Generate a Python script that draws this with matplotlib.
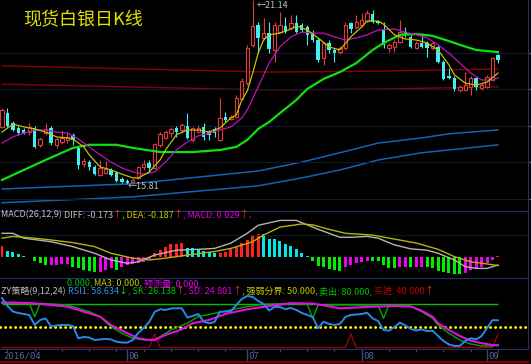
import matplotlib
matplotlib.use('Agg')
import matplotlib.pyplot as plt
import numpy as np
import pandas as pd

W, H = 531, 364
FONT = ['Liberation Sans Narrow', 'Noto Sans CJK SC']

# trading days shown (2016/04/29 .. 2016/09/05)
dates = pd.bdate_range('2016-04-29', periods=92)
month_idx = [0, 23, 45, 66, 89]
month_lbl = ['2016/04', '06', '07', '08', '09']

# daily candles
opens = [17.46, 17.86, 17.57, 17.43, 17.37, 17.31, 17.43, 16.94, 17.28, 17.43,
         16.94, 17.02, 17.08, 17.23, 16.85, 16.38, 16.44, 16.30, 16.07, 16.12,
         16.21, 16.12, 15.95, 15.89, 15.86, 15.98, 16.30, 16.41, 16.27, 16.94,
         17.14, 17.28, 17.43, 17.37, 17.49, 17.08, 17.31, 17.46, 17.31, 17.40,
         17.08, 17.75, 17.69, 17.75, 18.27, 18.73, 19.84, 20.41, 20.04, 20.18,
         19.69, 20.21, 20.39, 20.33, 20.47, 20.41, 20.36, 20.18, 19.98, 19.46,
         19.89, 19.69, 19.63, 19.75, 20.47, 20.36, 20.41, 20.53, 20.73, 20.53,
         20.27, 19.75, 19.78, 19.92, 20.21, 20.07, 19.75, 19.89, 19.89, 19.75,
         19.78, 19.34, 18.94, 18.88, 18.53, 18.53, 18.62, 18.88, 18.59, 18.62,
         18.82, 19.55]
highs = [18.01, 18.01, 17.63, 17.49, 17.43, 17.57, 17.49, 17.17, 17.57, 17.49,
         17.17, 17.37, 17.31, 17.28, 16.91, 16.56, 16.50, 16.35, 16.50, 16.47,
         16.27, 16.18, 16.01, 15.95, 15.98, 16.33, 16.50, 16.50, 16.99, 17.31,
         17.37, 17.46, 17.49, 17.57, 17.86, 17.46, 17.52, 17.57, 17.37, 17.46,
         18.30, 17.89, 17.81, 18.39, 18.88, 19.84, 21.14, 20.50, 20.62, 20.50,
         20.50, 20.79, 20.65, 20.71, 20.71, 20.47, 20.41, 20.27, 20.04, 19.92,
         19.98, 19.75, 19.81, 20.50, 20.50, 20.71, 20.76, 20.85, 20.85, 20.56,
         20.50, 19.89, 19.98, 20.56, 20.36, 20.13, 19.95, 20.18, 19.95, 19.95,
         19.84, 19.40, 19.17, 18.94, 18.67, 19.05, 18.94, 18.91, 18.73, 18.97,
         19.49, 19.57]
lows = [17.43, 17.46, 17.34, 17.23, 17.25, 17.23, 16.85, 16.88, 17.23, 16.94,
        16.85, 16.96, 16.99, 16.94, 16.24, 16.30, 16.21, 16.07, 16.04, 16.09,
        16.04, 15.86, 15.83, 15.81, 15.83, 15.95, 16.21, 16.15, 16.24, 16.88,
        17.11, 17.17, 17.17, 17.28, 17.11, 17.02, 17.28, 17.08, 17.08, 17.17,
        17.05, 17.60, 17.66, 17.72, 18.24, 18.67, 19.78, 19.60, 19.98, 19.60,
        19.34, 20.18, 20.18, 20.27, 20.18, 20.21, 19.84, 19.92, 19.34, 19.26,
        19.60, 19.34, 19.57, 19.69, 20.18, 20.30, 20.36, 20.50, 20.47, 20.44,
        19.75, 19.63, 19.63, 19.89, 20.07, 19.75, 19.72, 19.75, 19.49, 19.69,
        19.31, 18.82, 18.85, 18.50, 18.47, 18.50, 18.39, 18.53, 18.53, 18.59,
        18.79, 19.31]
closes = [17.95, 17.49, 17.37, 17.28, 17.28, 17.46, 16.88, 17.11, 17.40, 16.99,
          17.11, 17.14, 17.17, 17.08, 16.35, 16.47, 16.30, 16.09, 16.27, 16.24,
          16.07, 15.89, 15.86, 15.83, 15.92, 16.30, 16.38, 16.27, 16.96, 17.25,
          17.31, 17.40, 17.31, 17.52, 17.14, 17.43, 17.43, 17.17, 17.23, 17.28,
          17.72, 17.66, 17.75, 18.30, 18.79, 19.75, 20.39, 20.04, 20.18, 19.72,
          20.41, 20.41, 20.21, 20.47, 20.21, 20.27, 20.13, 19.98, 19.40, 19.89,
          19.69, 19.60, 19.75, 20.41, 20.30, 20.50, 20.56, 20.76, 20.50, 20.47,
          19.84, 19.84, 19.92, 20.21, 20.13, 19.78, 19.89, 19.78, 19.75, 19.89,
          19.34, 18.85, 18.88, 18.56, 18.62, 18.67, 18.88, 18.62, 18.67, 18.91,
          19.46, 19.40]

# moving average lines (candle index, price)
ma5_idx = [0, 2, 4, 6, 8, 10, 12, 13, 15, 16, 18, 20, 22, 24, 25, 27, 29, 30, 32, 34,
           36, 38, 40, 42, 43, 44, 45, 46, 47, 48, 49, 51, 53, 54, 56, 58, 60, 62, 64, 66,
           67, 69, 70, 72, 74, 76, 78, 80, 82, 83, 85, 87, 89, 91]
ma5_val = [17.31, 17.54, 17.46, 17.40, 17.31, 17.17, 17.14, 17.11, 16.88, 16.65,
           16.30, 16.21, 16.09, 15.98, 15.98, 16.15, 16.50, 16.79, 17.23, 17.37,
           17.37, 17.31, 17.43, 17.72, 17.81, 18.24, 18.50, 19.02, 19.60, 19.98,
           20.13, 20.18, 20.30, 20.39, 20.27, 20.04, 19.78, 19.69, 20.07, 20.36,
           20.53, 20.53, 20.44, 20.13, 20.01, 19.98, 19.89, 19.69, 19.26, 18.97,
           18.73, 18.67, 18.76, 19.02]
ma10_idx = [0, 2, 4, 6, 8, 10, 12, 14, 16, 18, 20, 22, 24, 26, 28, 30, 32, 34, 36, 38,
            40, 42, 44, 45, 47, 49, 51, 53, 55, 57, 59, 61, 63, 65, 67, 69, 72, 74, 76, 78,
            80, 82, 84, 86, 88, 90, 91]
ma10_val = [16.99, 17.17, 17.28, 17.37, 17.37, 17.31, 17.28, 17.11, 16.88, 16.65,
            16.44, 16.27, 16.15, 16.09, 16.15, 16.44, 16.79, 17.02, 17.20, 17.28,
            17.37, 17.46, 17.72, 17.95, 18.62, 19.31, 19.78, 20.07, 20.21, 20.18,
            20.18, 20.07, 19.98, 20.04, 20.13, 20.27, 20.30, 20.21, 20.13, 20.04,
            19.84, 19.60, 19.31, 19.02, 18.82, 18.82, 18.88]
ma60_idx = [0, 4, 8, 13, 16, 21, 24, 29, 35, 40, 43, 45, 47, 49, 51, 54, 56, 59, 62, 65,
            68, 70, 73, 76, 79, 82, 84, 87, 91]
ma60_val = [15.92, 16.21, 16.50, 16.85, 16.94, 16.94, 16.85, 16.73, 16.73, 16.79,
            16.88, 17.08, 17.40, 17.60, 17.86, 18.24, 18.56, 18.85, 19.05, 19.31,
            19.69, 19.89, 20.13, 20.15, 20.10, 19.95, 19.84, 19.69, 19.63]
red_idx = [0, 49, 70, 91]
red_hi = [19.23, 19.05, 19.08, 19.14]
red_lo = [18.70, 18.53, 18.56, 18.62]
blue_idx = [0, 24, 47, 55, 62, 69, 77, 82, 91]
blue_hi = [15.66, 15.81, 16.18, 16.44, 16.71, 16.99, 17.14, 17.26, 17.37]
blue_lo = [15.26, 15.43, 15.75, 15.98, 16.21, 16.50, 16.71, 16.79, 16.94]

# MACD(26,12,9)
macd_hist = [0.254, 0.151, 0.128, 0.074, 0.029, 0.007, -0.090, -0.135, -0.180, -0.173,
             -0.164, -0.158, -0.151, -0.209, -0.248, -0.286, -0.299, -0.331, -0.322, -0.286,
             -0.248, -0.286, -0.209, -0.173, -0.151, -0.135, -0.097, -0.045, 0.106, 0.164,
             0.241, 0.299, 0.308, 0.315, 0.209, 0.203, 0.180, 0.151, 0.128, 0.097,
             0.106, 0.128, 0.180, 0.241, 0.315, 0.389, 0.473, 0.529, 0.518, 0.412,
             0.405, 0.376, 0.299, 0.254, 0.180, 0.106, 0.029, -0.074, -0.187, -0.225,
             -0.270, -0.293, -0.302, -0.209, -0.173, -0.119, -0.097, -0.074, -0.079, -0.090,
             -0.173, -0.232, -0.248, -0.218, -0.209, -0.225, -0.218, -0.209, -0.225, -0.248,
             -0.299, -0.322, -0.344, -0.376, -0.378, -0.344, -0.286, -0.248, -0.209, -0.135,
             -0.061, 0.029]
diff_idx = [0, 2, 4, 9, 13, 17, 20, 23, 25, 28, 32, 36, 39, 42, 45, 47, 51, 54, 56, 58,
            62, 64, 67, 69, 72, 75, 78, 80, 83, 85, 87, 89, 91]
diff_val = [0.54, 0.54, 0.43, 0.35, 0.24, 0.09, -0.06, -0.135, -0.10, 0.05,
            0.16, 0.18, 0.20, 0.32, 0.54, 0.72, 0.83, 0.83, 0.73, 0.63,
            0.45, 0.45, 0.47, 0.43, 0.28, 0.19, 0.16, 0.09, -0.06, -0.21,
            -0.25, -0.25, -0.173]
dea_idx = [0, 2, 6, 9, 13, 17, 20, 24, 27, 30, 34, 39, 42, 46, 48, 51, 55, 57, 60, 63,
           68, 72, 76, 80, 83, 86, 89, 91]
dea_val = [0.43, 0.47, 0.43, 0.39, 0.33, 0.24, 0.09, -0.02, -0.06, -0.02,
           0.05, 0.13, 0.20, 0.35, 0.50, 0.68, 0.75, 0.73, 0.63, 0.54,
           0.50, 0.41, 0.32, 0.18, 0.016, -0.10, -0.15, -0.187]

# ZY strategy (9,12,24)
rsi1 = [88.4, 77.7, 70.3, 68.3, 67.0, 65.7, 52.3, 59.0, 61.0, 50.3,
        51.6, 52.3, 52.3, 51.0, 34.5, 36.2, 35.5, 32.2, 32.9, 33.5,
        32.9, 29.9, 28.8, 28.6, 32.2, 41.6, 48.3, 56.3, 69.7, 73.3,
        72.4, 74.4, 74.6, 74.6, 62.3, 64.3, 67.0, 56.7, 54.6, 56.3,
        70.1, 70.1, 71.0, 79.0, 87.1, 91.1, 89.8, 84.4, 80.4, 71.7,
        76.4, 76.4, 73.3, 75.0, 72.4, 68.3, 65.7, 63.0, 47.9, 56.7,
        53.6, 52.3, 53.6, 63.0, 65.7, 66.3, 67.0, 68.7, 61.2, 57.6,
        45.6, 44.6, 49.6, 55.4, 51.6, 46.9, 44.9, 46.3, 44.2, 44.6,
        37.5, 30.9, 26.2, 24.2, 24.2, 30.9, 34.5, 33.1, 37.5, 48.3,
        58.8, 58.6]
sk_idx = [0, 5, 6, 7, 12, 16, 18, 20, 22, 24, 26, 28, 29, 31, 34, 36, 39, 42, 45, 48,
          53, 56, 57, 58, 64, 69, 70, 71, 75, 77, 79, 80, 82, 84, 86, 88, 90, 91]
sk_val = [81.3, 81.3, 63.4, 81.3, 79.0, 70.1, 63.4, 50.0, 41.2, 34.5,
          32.2, 32.2, 36.6, 45.6, 54.6, 63.4, 67.9, 72.4, 76.8, 80.0,
          81.3, 80.4, 61.2, 79.0, 79.0, 79.0, 61.2, 79.0, 77.7, 70.1,
          61.2, 52.3, 41.2, 32.2, 26.8, 24.2, 24.2, 26.1]
sd_idx = [0, 6, 12, 15, 18, 20, 23, 25, 27, 28, 30, 33, 35, 38, 41, 45, 49, 53, 57, 62,
          67, 72, 75, 77, 79, 80, 82, 84, 86, 88, 90, 91]
sd_val = [82.7, 81.3, 76.8, 70.1, 63.4, 52.3, 41.2, 34.5, 32.2, 32.2,
          38.9, 46.5, 54.6, 59.0, 67.0, 73.3, 77.7, 81.3, 81.1, 74.6,
          76.4, 77.7, 77.0, 71.4, 63.4, 54.6, 45.6, 37.5, 31.3, 27.8,
          25.5, 24.8]
buy = [22, 22, 22, 22, 22, 22, 22, 22, 22, 22, 22, 22, 22, 22, 22, 22, 22, 22, 22, 22,
       22, 22, 22, 22, 22, 22, 22, 22, 40, 22, 22, 22, 22, 22, 22, 22, 22, 22, 22, 22,
       22, 22, 22, 22, 22, 22, 22, 22, 22, 22, 22, 22, 22, 22, 22, 22, 22, 22, 22, 22,
       22, 22, 22, 22, 40, 22, 22, 22, 22, 22, 22, 22, 22, 22, 22, 22, 22, 22, 22, 22,
       22, 22, 22, 22, 22, 22, 22, 22, 22, 22, 22, 40]
sell_level, mid_level = 80, 50

RED, CYAN = '#e03c3c', '#40f0f0'
GRID, EDGE = '#0c1a2c', '#1a3560'

fig = plt.figure(figsize=(W / 100, H / 100), dpi=100, facecolor='black')


def box(top, bottom):
    return [0, 1 - bottom / H, 528 / W, (bottom - top) / H]


ax = fig.add_axes(box(0, 211))
ax2 = fig.add_axes(box(211, 278), sharex=ax)
ax3 = fig.add_axes(box(278, 349), sharex=ax)
ax4 = fig.add_axes(box(349, 362), sharex=ax)
for a in (ax, ax2, ax3, ax4):
    a.set_facecolor('black')
    for s in a.spines.values():
        s.set_visible(False)
    a.tick_params(left=False, bottom=False, labelleft=False, labelbottom=False)
for a in (ax2, ax3, ax4):
    a.spines['top'].set_visible(True)
    a.spines['top'].set_color(EDGE)
for a in (ax, ax2, ax3):
    a.spines['right'].set_visible(True)
    a.spines['right'].set_color(EDGE)
ax.set_xlim(-0.367, 96.51)

# ---- main panel
x = np.arange(len(closes))
o, h, l, c = map(np.array, (opens, highs, lows, closes))
up = c >= o
ax.set_ylim(15.02, 21.14)
grid_prices = [19.60, 18.55, 17.49, 16.43, 15.37]
ax.set_yticks(grid_prices)
ax.grid(axis='y', color=GRID, lw=0.8)
ax.tick_params(axis='y', right=True, labelright=False, length=3, color='#40608a')
ax.vlines(x[up], l[up], h[up], color=RED, lw=0.8, zorder=2)
ax.vlines(x[~up], l[~up], h[~up], color=CYAN, lw=0.8, zorder=2)
bot = np.minimum(o, c)
ht = np.maximum(np.abs(c - o), 0.015)
ax.bar(x[up], ht[up], 0.62, bot[up], facecolor='black', edgecolor=RED, lw=0.8, zorder=3)
ax.bar(x[~up], ht[~up], 0.62, bot[~up], color=CYAN, lw=0, zorder=3)

ax.plot(red_idx, red_hi, color='#8a0000', lw=1, zorder=1)
ax.plot(red_idx, red_lo, color='#8a0000', lw=1, zorder=1)
ax.plot(blue_idx, blue_hi, color='#1462b4', lw=1.1, zorder=1)
ax.plot(blue_idx, blue_lo, color='#1462b4', lw=1.1, zorder=1)
ax.plot(ma60_idx, ma60_val, color='#10e010', lw=1.6, zorder=4)
ax.plot(ma10_idx, ma10_val, color='#c010c0', lw=0.9, zorder=4)
ax.plot(ma5_idx, ma5_val, color='#c8c000', lw=0.9, zorder=5)

lo_i = int(np.argmin(l))
hi_i = int(np.argmax(h))
ax.annotate('\u2190%.2f' % l[lo_i], xy=(lo_i, l[lo_i]), xytext=(0, -3),
            textcoords='offset pixels', ha='left', va='center', color='#c0c0c0',
            fontsize=6.5, family=FONT, annotation_clip=False)
ax.annotate('\u2190%.2f' % h[hi_i], xy=(hi_i, h[hi_i]), xytext=(4, -1),
            textcoords='offset pixels', ha='left', va='top', color='#c0c0c0',
            fontsize=6.5, family=FONT, annotation_clip=False)

fig.text(23 / W, 1 - 20 / H, '现货白银日K线', color='#e0e000', fontsize=13,
         family=['Noto Sans CJK SC'], va='center', ha='left')

# ---- MACD panel
ax2.set_ylim(-0.466, 1.042)
ax2.axhline(0.5, color=GRID, lw=0.8)
cols = []
prev = None
for v in macd_hist:
    if v >= 0:
        cols.append('#ff2020' if prev is None or v >= prev else '#00e8e8')
    else:
        cols.append('#00f000' if prev is None or v < prev else '#f000f0')
    prev = v
ax2.bar(x, macd_hist, 0.55, color=cols, lw=0)
ax2.plot(diff_idx, diff_val, color='#b4b4b4', lw=1)
ax2.plot(dea_idx, dea_val, color='#b8b400', lw=1)

# ---- ZY strategy panel
ax3.set_ylim(20.1, 115.2)
ax3.hlines(sell_level, 0, len(x) - 1, color='#00c000', lw=1)
ax3.axhline(mid_level, color='#ffff00', lw=2, ls=(0, (0.1, 1.7)), dash_capstyle='round')
ax3.plot(x, buy, color='#a00000', lw=1)
ax3.plot(sk_idx, sk_val, color='#00a800', lw=1)
ax3.plot(sd_idx, sd_val, color='#e010e0', lw=1.5)
ax3.plot(x, rsi1, color='#2a88e8', lw=1.4)

# ---- date bar
ax4.set_ylim(0, 1)
ax4.spines['bottom'].set_visible(True)
ax4.spines['bottom'].set_color('#800000')
ax4.spines['bottom'].set_linewidth(1.6)
mondays = [i for i, d in enumerate(dates) if d.weekday() == 0 and i not in month_idx]
ax4.vlines(mondays, 0.75, 1, color='#2a4670', lw=0.8)
ax4.vlines(month_idx[1:], 0, 1, color='#2a4a7a', lw=1)
for i, s in zip(month_idx, month_lbl):
    ax4.annotate(s, xy=(i, 0.45), xytext=(1.5, 0), textcoords='offset pixels',
                 ha='left', va='center', color='#4c6c9c', fontsize=6.5,
                 family=['DejaVu Sans Mono'], annotation_clip=False)

# ---- coloured label rows
renderer = fig.canvas.get_renderer()


def label_row(px, py, parts, size=6.5):
    for s, col in parts:
        t = fig.text(px / W, 1 - py / H, s, color=col, fontsize=size, family=FONT,
                     ha='left', va='center')
        px += t.get_window_extent(renderer=renderer).width


label_row(1, 215, [('MACD(26,12,9) ', '#c0c0c0'), ('DIFF: -0.173', '#c0c0c0'),
                   ('\u2191', '#ff3030'), (', DEA: -0.187', '#c8c800'), ('\u2191', '#ff3030'),
                   (', MACD: 0.029', '#e000e0'), ('\u2191', '#ff3030'), (',', '#e000e0')])
label_row(67, 283, [('0.000, ', '#00c000'), ('MA3: 0.000, ', '#c8c800'),
                    ('预测量: 0.000,', '#e000e0')])
label_row(1, 291, [('ZY策略(9,12,24) ', '#c0c0c0'), ('RSI1: 58.634', '#3090f0'),
                   ('\u2193', '#00ff00'), (', SK: 26.138', '#00c000'), ('\u2191', '#ff3030'),
                   (', SD: 24.801', '#e000e0'), ('\u2191', '#ff3030'),
                   (', 强弱分界: 50.000, ', '#c8c800'), ('卖出: 80.000, ', '#00c000'),
                   ('买进: 40.000', '#c00000'), ('\u2191', '#ff3030')])

fig.savefig('out.png', dpi=100, facecolor='black')
